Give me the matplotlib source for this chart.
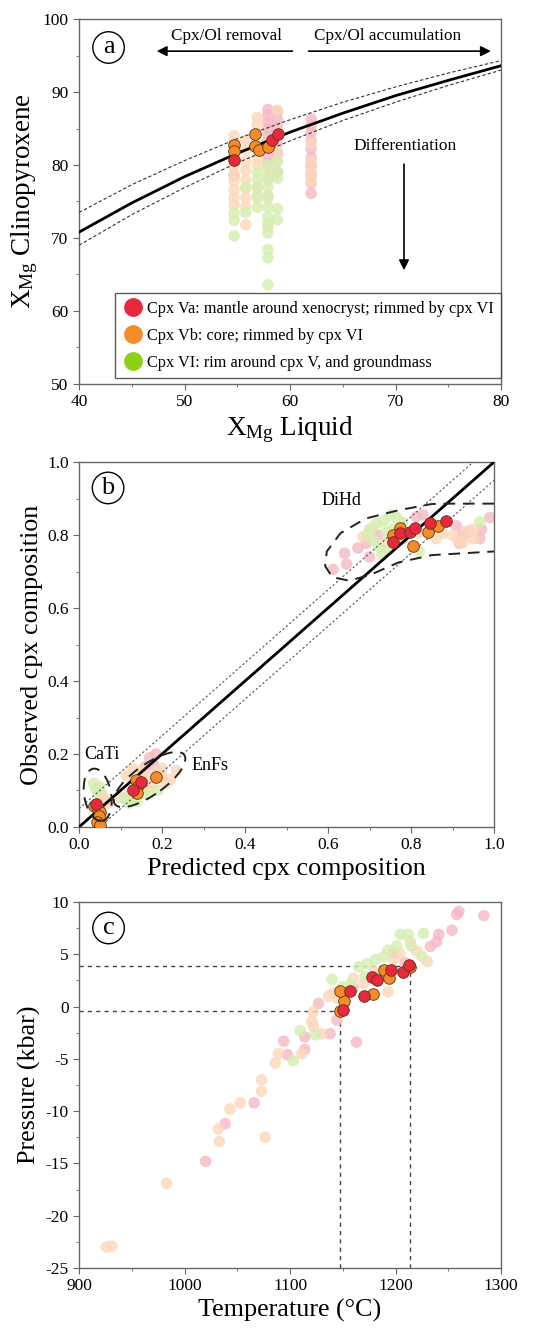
import matplotlib
matplotlib.use("Agg")
import matplotlib.pyplot as plt
from matplotlib.lines import Line2D
from matplotlib.patches import Ellipse
from matplotlib.ticker import MultipleLocator, FormatStrFormatter

plt.rcParams['font.family'] = ['Liberation Serif', 'DejaVu Serif']
plt.rcParams['mathtext.fontset'] = 'custom'
plt.rcParams['mathtext.rm'] = 'Liberation Serif'
plt.rcParams['mathtext.it'] = 'Liberation Serif:italic'
plt.rcParams['axes.unicode_minus'] = False

# ---------------- colours ----------------
RED = '#e8283c'
ORANGE = '#f58c28'
GREEN = '#8cd214'
PINK_F = '#f6b9c3'
PEACH_F = '#fbd8bb'
GREEN_F = '#d5eeb0'
EDGE = '#5e3416'

# ---------------- panel a data ----------------
A_VA_X = [54.7, 58.3, 58.9]
A_VA_Y = [80.7, 83.4, 84.2]
A_VB_X = [54.7, 54.7, 56.7, 56.7, 57.1, 57.9]
A_VB_Y = [82.7, 81.9, 84.3, 82.6, 82.1, 82.4]
A_VAF_X = [57.9, 57.9, 57.9, 57.9, 57.9, 57.9, 57.9, 57.9,
           58.8, 58.8, 58.8, 58.8, 58.8, 58.8,
           62.0, 62.0, 62.0, 62.0, 62.0, 62.0, 62.0, 62.0, 62.0, 62.0,
           54.7]
A_VAF_Y = [87.6, 86.8, 85.9, 85.0, 84.2, 83.2, 81.2, 80.3,
           87.3, 86.2, 85.2, 83.0, 81.5, 79.0,
           86.3, 85.4, 84.5, 83.4, 82.2, 81.0, 79.8, 78.6, 77.5, 76.1,
           78.5]
A_VBF_X = [54.7, 54.7, 54.7, 54.7, 54.7, 54.7, 54.7, 54.7,
           55.8, 55.8, 55.8, 55.8, 55.8, 55.8, 55.8, 55.8, 55.8,
           56.9, 56.9, 56.9, 56.9, 56.9, 56.9,
           57.9, 57.9, 57.9, 57.9,
           58.8, 58.8, 58.8, 58.8,
           62.0, 62.0, 62.0, 62.0]
A_VBF_Y = [84.0, 83.0, 79.8, 78.8, 77.8, 76.6, 75.5, 74.5,
           83.4, 82.0, 80.5, 79.3, 78.0, 76.8, 75.5, 74.3, 71.8,
           86.5, 85.5, 81.0, 80.0, 77.0, 75.8,
           79.5, 78.0, 75.5, 71.5,
           87.5, 84.0, 82.0, 80.5,
           83.0, 80.5, 79.0, 77.8]
A_VIF_X = [54.7, 54.7, 54.7,
           55.8, 55.8,
           56.9, 56.9, 56.9, 56.9, 56.9,
           57.9, 57.9, 57.9, 57.9, 57.9, 57.9, 57.9, 57.9, 57.9, 57.9, 57.9,
           58.8, 58.8, 58.8, 58.8, 58.8]
A_VIF_Y = [73.4, 72.4, 70.3,
           73.5, 77.0,
           79.0, 78.0, 76.8, 75.5, 74.2,
           80.0, 78.5, 77.0, 75.8, 74.3, 72.9, 72.0, 70.7, 68.4, 67.3, 63.6,
           80.5, 79.0, 78.2, 74.0, 72.5]

# equilibrium curves (X_Mg liquid vs X_Mg cpx)
CURVE_XL = [40, 45, 50, 55, 60, 65, 70, 75, 80]
CURVE_MID = [70.8, 74.8, 78.4, 81.6, 84.5, 87.1, 89.5, 91.6, 93.6]
CURVE_UP = [73.5, 77.3, 80.6, 83.6, 86.2, 88.6, 90.7, 92.6, 94.3]
CURVE_LO = [69.0, 73.2, 76.9, 80.3, 83.3, 86.1, 88.6, 90.9, 93.0]

# ---------------- panel b data ----------------
B_VA_X = [0.757, 0.773, 0.797, 0.809, 0.845, 0.885, 0.040, 0.149, 0.130]
B_VA_Y = [0.782, 0.805, 0.809, 0.820, 0.832, 0.839, 0.062, 0.124, 0.100]
B_VB_X = [0.757, 0.773, 0.805, 0.841, 0.864,
          0.035, 0.045, 0.050, 0.048, 0.043, 0.050,
          0.137, 0.140, 0.140, 0.185]
B_VB_Y = [0.800, 0.818, 0.771, 0.809, 0.825,
          0.058, 0.050, 0.040, 0.030, 0.015, 0.005,
          0.129, 0.110, 0.092, 0.137]
B_VAF_X = [0.612, 0.640, 0.645, 0.672, 0.692, 0.700, 0.813, 0.829, 0.909, 0.925,
           0.940, 0.966, 0.970, 0.990, 0.917, 0.720, 0.780,
           0.170, 0.180, 0.185, 0.160, 0.050]
B_VAF_Y = [0.706, 0.750, 0.720, 0.764, 0.777, 0.740, 0.850, 0.855, 0.825, 0.800,
           0.810, 0.790, 0.815, 0.848, 0.777, 0.800, 0.790,
           0.190, 0.170, 0.200, 0.165, 0.070]
B_VBF_X = [0.684, 0.700, 0.773, 0.820, 0.845, 0.877, 0.912, 0.932, 0.950, 0.925,
           0.950, 0.740, 0.860, 0.900,
           0.100, 0.120, 0.140, 0.155, 0.165, 0.150, 0.130, 0.175, 0.200, 0.210,
           0.220, 0.235, 0.190, 0.170, 0.115, 0.200,
           0.060, 0.070, 0.055, 0.060]
B_VBF_Y = [0.795, 0.815, 0.800, 0.805, 0.810, 0.805, 0.786, 0.810, 0.815, 0.780,
           0.790, 0.780, 0.790, 0.800,
           0.080, 0.090, 0.100, 0.120, 0.140, 0.155, 0.160, 0.120, 0.140, 0.120,
           0.130, 0.155, 0.155, 0.100, 0.140, 0.160,
           0.080, 0.065, 0.090, 0.025]
B_VIF_X = [0.704, 0.717, 0.735, 0.750, 0.765, 0.710, 0.722, 0.730, 0.745, 0.760,
           0.780, 0.820, 0.966, 0.695, 0.860, 0.740,
           0.110, 0.120, 0.140, 0.160, 0.190, 0.130,
           0.035, 0.040, 0.045, 0.050]
B_VIF_Y = [0.818, 0.832, 0.840, 0.855, 0.848, 0.785, 0.768, 0.745, 0.760, 0.820,
           0.835, 0.755, 0.836, 0.800, 0.825, 0.810,
           0.080, 0.065, 0.070, 0.090, 0.100, 0.075,
           0.120, 0.105, 0.095, 0.110]

# DiHd field outline
DIHD_X = [1.00, 0.90, 0.85, 0.77, 0.69, 0.63, 0.597, 0.593, 0.61, 0.65, 0.70, 0.77, 0.85, 1.00]
DIHD_Y = [0.886, 0.886, 0.885, 0.868, 0.845, 0.805, 0.755, 0.715, 0.685, 0.675, 0.690, 0.725, 0.745, 0.755]

# ---------------- panel c data ----------------
C_VA_T = [1150, 1156.5, 1169.7, 1177.6, 1182.4, 1196, 1207, 1212.4]
C_VA_P = [-0.3, 1.5, 1.0, 2.8, 2.55, 3.5, 3.3, 4.0]
C_VB_T = [1147, 1150.8, 1147, 1179, 1188.7, 1193.4, 1213.4]
C_VB_P = [-0.4, 0.58, 1.5, 1.2, 3.5, 2.7, 3.8]
C_VAF_T = [1020, 1038.5, 1066, 1094, 1097.6, 1114, 1114, 1138, 1127, 1144.4, 1163,
           1198, 1209, 1233, 1239, 1241, 1253.5, 1258, 1260, 1283.6, 1160, 1185]
C_VAF_P = [-14.8, -11.2, -9.2, -3.3, -4.6, -4.1, -2.9, -2.6, 0.3, -1.3, -3.4,
           5.1, 4.2, 5.75, 6.2, 6.9, 7.3, 8.8, 9.1, 8.7, 1.8, 3.0]
C_VBF_T = [926, 931, 983, 1032, 1033, 1043, 1053, 1076.5, 1073, 1073, 1086, 1089,
           1111, 1120.7, 1122, 1130, 1122, 1136.5, 1141, 1193, 1160, 1198, 1204,
           1214, 1220, 1230, 1170, 1145, 1180]
C_VBF_P = [-23.0, -22.9, -16.9, -11.7, -12.9, -9.8, -9.2, -12.5, -7.0, -8.1, -5.4, -4.5,
           -4.5, -1.4, -1.9, -2.6, -0.5, 1.0, 1.3, 1.4, 2.7, 4.5, 5.1,
           6.2, 5.3, 4.3, 2.2, 0.8, 3.4]
C_VIF_T = [1103, 1109.6, 1124, 1139.7, 1157, 1171, 1181, 1201, 1204.5, 1212, 1226.6,
           1225, 1165, 1173, 1189, 1193, 1150, 1215]
C_VIF_P = [-5.2, -2.3, -2.7, 2.6, 2.1, 2.9, 4.5, 5.8, 6.9, 6.9, 7.0,
           4.8, 3.8, 4.1, 4.8, 5.4, 1.9, 5.8]
C_T_LINES = [1147, 1214]
C_P_LINES = [-0.4, 3.9]

# ---------------- figure ----------------
fig = plt.figure(figsize=(5.39, 13.30), dpi=100)
axA = fig.add_axes([0.1466, 0.7113, 0.783, 0.2744])
axB = fig.add_axes([0.1466, 0.3782, 0.770, 0.2744])
axC = fig.add_axes([0.1466, 0.0466, 0.783, 0.2752])

MS = 70
LABEL_FS = 18.8


def faded(ax, x, y, c):
    ax.scatter(x, y, s=MS, color=c, alpha=0.8, edgecolors='none', zorder=2)


def solid(ax, x, y, c):
    ax.scatter(x, y, s=MS, color=c, edgecolors=EDGE, linewidths=0.6, zorder=4)


def style(ax):
    for sp in ax.spines.values():
        sp.set_color('#666666')
        sp.set_linewidth(1.0)
    ax.tick_params(which='both', direction='out', color='#666666', labelsize=12.5,
                   top=False, right=False)
    ax.tick_params(which='major', length=4)
    ax.tick_params(which='minor', length=2.5)


def letter(ax, s, x, y):
    ax.text(x, y, s, transform=ax.transAxes, fontsize=19, ha='center', va='center',
            zorder=6,
            bbox=dict(boxstyle='circle,pad=0.18', fc='white', ec='black', lw=1.0))


# ---- panel a ----
ax = axA
ax.plot(CURVE_XL, CURVE_UP, color='#333333', lw=0.8, ls=(0, (3, 2)), zorder=3)
ax.plot(CURVE_XL, CURVE_LO, color='#333333', lw=0.8, ls=(0, (3, 2)), zorder=3)
ax.plot(CURVE_XL, CURVE_MID, color='black', lw=2.0, zorder=3)
faded(ax, A_VAF_X, A_VAF_Y, PINK_F)
faded(ax, A_VBF_X, A_VBF_Y, PEACH_F)
faded(ax, A_VIF_X, A_VIF_Y, GREEN_F)
solid(ax, A_VB_X, A_VB_Y, ORANGE)
solid(ax, A_VA_X, A_VA_Y, RED)
ax.set_xlim(40, 80)
ax.set_ylim(50, 100)
ax.xaxis.set_major_locator(MultipleLocator(10))
ax.xaxis.set_minor_locator(MultipleLocator(5))
ax.yaxis.set_major_locator(MultipleLocator(10))
ax.yaxis.set_minor_locator(MultipleLocator(5))
style(ax)
ax.set_xlabel(r'X$_{\mathrm{Mg}}$ Liquid', fontsize=19.5, labelpad=3)
ax.set_ylabel(r'X$_{\mathrm{Mg}}$ Clinopyroxene', fontsize=19.5, labelpad=2)
ax.annotate('', xy=(47.1, 95.6), xytext=(60.5, 95.6),
            arrowprops=dict(arrowstyle='-|>', color='black', lw=1.2, mutation_scale=15))
ax.annotate('', xy=(79.3, 95.6), xytext=(61.5, 95.6),
            arrowprops=dict(arrowstyle='-|>', color='black', lw=1.2, mutation_scale=15))
ax.text(54.0, 97.7, 'Cpx/Ol removal', fontsize=12.3, ha='center', va='center')
ax.text(69.2, 97.7, 'Cpx/Ol accumulation', fontsize=12.3, ha='center', va='center')
ax.text(70.9, 82.6, 'Differentiation', fontsize=12.5, ha='center', va='center')
ax.annotate('', xy=(70.8, 65.2), xytext=(70.8, 80.5),
            arrowprops=dict(arrowstyle='-|>', color='black', lw=1.2, mutation_scale=15))
letter(ax, 'a', 0.07, 0.922)
handles = [Line2D([], [], ls='', marker='o', markersize=12.5, markerfacecolor=RED,
                  markeredgecolor=RED),
           Line2D([], [], ls='', marker='o', markersize=12.5, markerfacecolor=ORANGE,
                  markeredgecolor=ORANGE),
           Line2D([], [], ls='', marker='o', markersize=12.5, markerfacecolor=GREEN,
                  markeredgecolor=GREEN)]
labels = ['Cpx Va: mantle around xenocryst; rimmed by cpx VI',
          'Cpx Vb: core; rimmed by cpx VI',
          'Cpx VI: rim around cpx V, and groundmass']
leg = ax.legend(handles, labels, loc='lower right', bbox_to_anchor=(1.0, 0.016),
                fontsize=11.7, frameon=True, fancybox=False, borderpad=0.45,
                labelspacing=0.68, handletextpad=0.2, handlelength=1.3,
                borderaxespad=0.0)
leg.get_frame().set_edgecolor('#333333')
leg.get_frame().set_linewidth(1.0)

# ---- panel b ----
ax = axB
ax.plot([0, 1], [0.05, 1.05], color='#555555', lw=0.8, ls=(0, (2, 2)), zorder=3)
ax.plot([0, 1], [-0.05, 0.95], color='#555555', lw=0.8, ls=(0, (2, 2)), zorder=3)
ax.plot([0, 1], [0, 1], color='black', lw=2.0, zorder=3)
faded(ax, B_VAF_X, B_VAF_Y, PINK_F)
faded(ax, B_VBF_X, B_VBF_Y, PEACH_F)
faded(ax, B_VIF_X, B_VIF_Y, GREEN_F)
solid(ax, B_VB_X, B_VB_Y, ORANGE)
solid(ax, B_VA_X, B_VA_Y, RED)
dash = (0, (6, 4))
ax.plot(DIHD_X, DIHD_Y, color='#222222', lw=1.4, ls=dash, zorder=5)
ax.add_patch(Ellipse((0.045, 0.088), 0.065, 0.145, angle=8, fill=False,
                     ec='#222222', lw=1.4, ls=dash, zorder=5))
ax.add_patch(Ellipse((0.17, 0.13), 0.215, 0.08, angle=40, fill=False,
                     ec='#222222', lw=1.4, ls=dash, zorder=5))
ax.text(0.632, 0.895, 'DiHd', fontsize=13, ha='center', va='center')
ax.text(0.055, 0.198, 'CaTi', fontsize=13, ha='center', va='center')
ax.text(0.315, 0.168, 'EnFs', fontsize=13, ha='center', va='center')
ax.set_xlim(0, 1)
ax.set_ylim(0, 1)
ax.xaxis.set_major_locator(MultipleLocator(0.2))
ax.xaxis.set_minor_locator(MultipleLocator(0.1))
ax.yaxis.set_major_locator(MultipleLocator(0.2))
ax.yaxis.set_minor_locator(MultipleLocator(0.1))
ax.xaxis.set_major_formatter(FormatStrFormatter('%.1f'))
ax.yaxis.set_major_formatter(FormatStrFormatter('%.1f'))
style(ax)
ax.set_xlabel('Predicted cpx composition', fontsize=LABEL_FS, labelpad=3)
ax.set_ylabel('Observed cpx composition', fontsize=LABEL_FS, labelpad=3)
letter(ax, 'b', 0.07, 0.929)

# ---- panel c ----
ax = axC
ax.plot([900, C_T_LINES[1]], [C_P_LINES[1], C_P_LINES[1]], color='#444444', lw=1.0,
        ls=(0, (3, 3)), zorder=1)
ax.plot([C_T_LINES[1], C_T_LINES[1]], [-25, C_P_LINES[1]], color='#444444', lw=1.0,
        ls=(0, (3, 3)), zorder=1)
ax.plot([900, C_T_LINES[0]], [C_P_LINES[0], C_P_LINES[0]], color='#444444', lw=1.0,
        ls=(0, (3, 3)), zorder=1)
ax.plot([C_T_LINES[0], C_T_LINES[0]], [-25, C_P_LINES[0]], color='#444444', lw=1.0,
        ls=(0, (3, 3)), zorder=1)
faded(ax, C_VAF_T, C_VAF_P, PINK_F)
faded(ax, C_VBF_T, C_VBF_P, PEACH_F)
faded(ax, C_VIF_T, C_VIF_P, GREEN_F)
solid(ax, C_VB_T, C_VB_P, ORANGE)
solid(ax, C_VA_T, C_VA_P, RED)
ax.set_xlim(900, 1300)
ax.set_ylim(-25, 10)
ax.xaxis.set_major_locator(MultipleLocator(100))
ax.xaxis.set_minor_locator(MultipleLocator(50))
ax.yaxis.set_major_locator(MultipleLocator(5))
ax.yaxis.set_minor_locator(MultipleLocator(2.5))
style(ax)
ax.set_xlabel('Temperature (°C)', fontsize=LABEL_FS, labelpad=3)
ax.set_ylabel('Pressure (kbar)', fontsize=LABEL_FS, labelpad=3)
letter(ax, 'c', 0.07, 0.929)

fig.savefig('out.png', dpi=100)
